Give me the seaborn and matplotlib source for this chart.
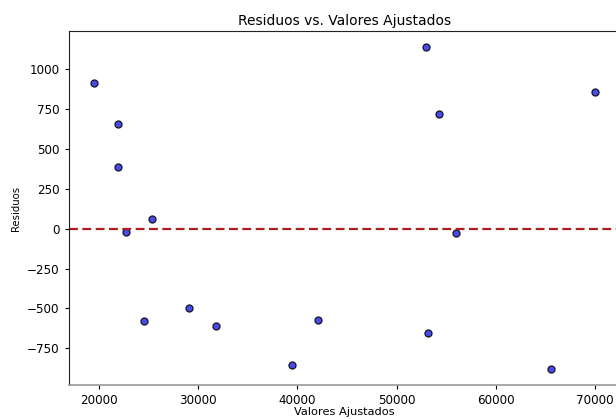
import numpy as np
import pandas as pd
import matplotlib
matplotlib.use('Agg')
import matplotlib.pyplot as plt
import seaborn as sns

# valores
valores_ajustados = [19466, 21883, 21943, 25307, 22749, 24531, 29063, 31750,
                     42023, 39435, 52961, 54238, 70017, 56020, 53160, 65587]
residuos = [909, 651, 388, 62, -19, -581, -498, -608,
            -571, -853, 1135, 714, 851, -25, -654, -878]

df = pd.DataFrame({'ajustados': valores_ajustados, 'residuos': residuos})

sns.set_style('ticks')
plt.rcParams['font.family'] = ['DejaVu Sans']
plt.rcParams['text.color'] = 'black'
plt.rcParams['axes.labelcolor'] = 'black'
plt.rcParams['xtick.color'] = 'black'
plt.rcParams['ytick.color'] = 'black'

fig = plt.figure(figsize=(6.16, 4.19), dpi=100)
# the axes run past the right edge, as in the reference crop
ax = fig.add_axes([68.5 / 616, 34 / 419, 552 / 616, 354 / 419])

sns.scatterplot(data=df, x='ajustados', y='residuos', ax=ax,
                color='#2a2ae6', alpha=0.85, edgecolor='black', linewidth=0.9, s=26)
ax.axhline(0, color='#b01c1c', linestyle='--', linewidth=1.6, dashes=(4, 2))

ax.set_yticks([-750, -500, -250, 0, 250, 500, 750, 1000])
ax.set_xticks([20000, 30000, 40000, 50000, 60000, 70000])
ax.tick_params(labelsize=8.6, length=3, width=0.8)
ax.set_title('Residuos vs. Valores Ajustados', fontsize=10, pad=4)
ax.set_xlabel('Valores Ajustados', fontsize=8.2, labelpad=0)
ax.set_ylabel('Residuos', fontsize=7.3, labelpad=4)

for side in ['top', 'right', 'left']:
    ax.spines[side].set_visible(True)
    ax.spines[side].set_color('#222222')
ax.spines['bottom'].set_color('#999999')
ax.spines['bottom'].set_linewidth(1.2)

fig.savefig('out.png', dpi=100)
plt.close(fig)
